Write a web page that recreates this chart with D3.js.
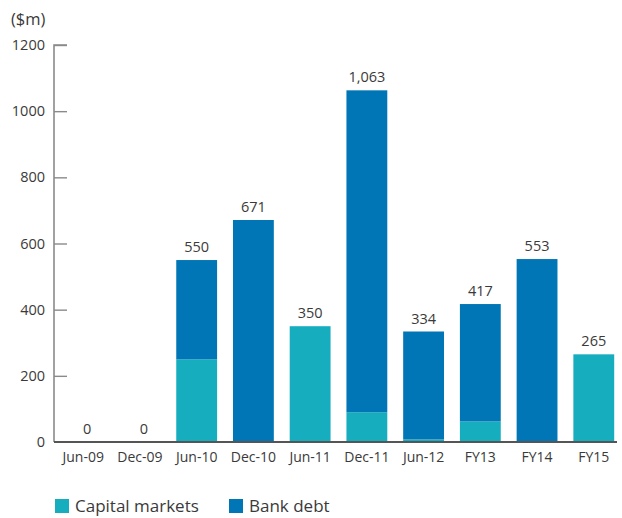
<!DOCTYPE html>
<html>
<head>
<meta charset="utf-8">
<script src="https://cdn.jsdelivr.net/npm/d3@7/dist/d3.min.js"></script>
<style>
  html, body { margin: 0; padding: 0; background: #fff; }
  svg { display: block; }
  text { font-family: "Open Sans", "Noto Sans", sans-serif; fill: #3a3a3a; }
</style>
</head>
<body>
<script>
// Debt maturity profile ($m), split by funding source
const periods = ["Jun-09", "Dec-09", "Jun-10", "Dec-10", "Jun-11", "Dec-11", "Jun-12", "FY13", "FY14", "FY15"];
const totals = [0, 0, 550, 671, 350, 1063, 334, 417, 553, 265];
const capitalMarkets = [0, 0, 250, 3, 350, 90, 8, 62, 0, 265];
const bankDebt = totals.map((t, i) => t - capitalMarkets[i]);
const totalLabels = ["0", "0", "550", "671", "350", "1,063", "334", "417", "553", "265"];
const yTicks = [0, 200, 400, 600, 800, 1000, 1200];
const seriesNames = ["Capital markets", "Bank debt"];
const seriesColors = ["#16adbf", "#0076b6"];

const W = 622, H = 518;
const svg = d3.select("body").append("svg").attr("width", W).attr("height", H);

const x = d3.scaleBand().domain(periods).range([54, 623]).paddingInner(0.28).paddingOuter(0.155);
const y = d3.scaleLinear().domain([0, 1200]).range([442, 45]);

// Stacked bars
const rows = periods.map((p, i) => ({ period: p, cap: capitalMarkets[i], bank: bankDebt[i] }));
const stack = d3.stack().keys(["cap", "bank"])(rows);
svg.append("g").selectAll("g").data(stack).join("g")
  .attr("fill", (d, i) => seriesColors[i])
  .selectAll("rect").data(d => d).join("rect")
  .attr("x", d => x(d.data.period))
  .attr("width", x.bandwidth())
  .attr("y", d => y(d[1]))
  .attr("height", d => y(d[0]) - y(d[1]));

// Y axis: ticks point inwards
const yAxis = svg.append("g").attr("transform", "translate(54,0)")
  .call(d3.axisRight(y).tickValues(yTicks).tickSize(13).tickFormat(d => d));
yAxis.select(".domain").attr("stroke", "#8a8a8a").attr("stroke-width", 1.6)
  .attr("d", `M13,${y(1200)}H0V${y(0)}`);
yAxis.selectAll(".tick line").attr("stroke", "#8a8a8a").attr("stroke-width", 1.4);
yAxis.selectAll(".tick text").attr("x", -9).attr("text-anchor", "end")
  .attr("font-size", 14.5).attr("fill", "#3a3a3a");
yAxis.selectAll(".tick").filter(d => d === 0).select("line").remove();

// X axis
const xAxis = svg.append("g").attr("transform", `translate(0,${y(0)})`)
  .call(d3.axisBottom(x).tickSize(0).tickPadding(10));
xAxis.select(".domain").attr("stroke", "#555").attr("stroke-width", 2)
  .attr("d", `M54,0H617`);
xAxis.selectAll(".tick text").attr("font-size", 14).attr("fill", "#3a3a3a");

// Total labels above bars
svg.append("g").selectAll("text").data(periods).join("text")
  .attr("x", d => x(d) + x.bandwidth() / 2 + (totals[periods.indexOf(d)] === 0 ? 4 : 0))
  .attr("y", (d, i) => y(totals[i]) - 8)
  .attr("text-anchor", "middle")
  .attr("font-size", 14.5)
  .text((d, i) => totalLabels[i]);

// Unit label
svg.append("text").attr("x", 11).attr("y", 25).attr("font-size", 16.5).text("($m)");

// Legend
const legend = svg.append("g").attr("transform", "translate(55,512)");
const items = [{ name: seriesNames[0], color: seriesColors[0], dx: 0 }, { name: seriesNames[1], color: seriesColors[1], dx: 174 }];
items.forEach(it => {
  const g = legend.append("g").attr("transform", `translate(${it.dx},0)`);
  g.append("rect").attr("x", 0).attr("y", -13).attr("width", 14).attr("height", 14).attr("fill", it.color);
  g.append("text").attr("x", 20).attr("y", 0).attr("font-size", 17).text(it.name);
});
</script>
</body>
</html>
